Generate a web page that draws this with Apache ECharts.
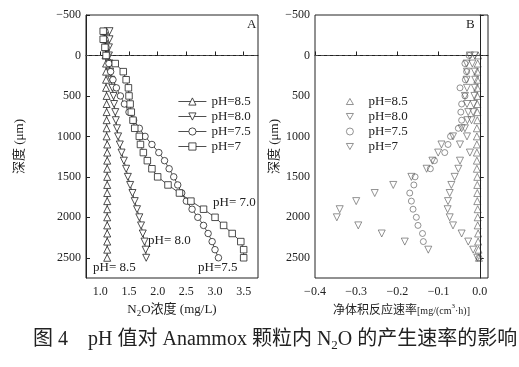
<!DOCTYPE html>
<html>
<head>
<meta charset="utf-8">
<script src="https://cdn.jsdelivr.net/npm/echarts@6.0.0/dist/echarts.min.js"></script>
<style>
html,body{margin:0;padding:0;background:#fff;}
#chart{width:519px;height:367px;}
</style>
</head>
<body>
<div id="chart"></div>
<script>
// ---------- data ----------
const depthsA = [-300,-200,-100,0,100,200,300,400,500,600,700,800,900,1000,1100,1200,1300,1400,1500,1600,1700,1800,1900,2000,2100,2200,2300,2400,2500];
const concPH85 = [1.08,1.08,1.09,1.09,1.10,1.10,1.10,1.10,1.11,1.11,1.11,1.11,1.11,1.11,1.12,1.12,1.12,1.12,1.12,1.12,1.12,1.12,1.12,1.12,1.12,1.12,1.12,1.12,1.12];
const concPH80 = [1.16,1.16,1.15,1.15,1.16,1.17,1.19,1.21,1.23,1.24,1.26,1.27,1.29,1.31,1.34,1.37,1.41,1.45,1.48,1.52,1.56,1.60,1.64,1.68,1.71,1.74,1.77,1.79,1.80];
const concPH75 = [1.08,1.08,1.10,1.12,1.15,1.18,1.22,1.28,1.35,1.42,1.50,1.58,1.68,1.78,1.90,2.02,2.12,2.20,2.28,2.35,2.42,2.50,2.60,2.70,2.80,2.88,2.95,3.00,3.06];
const concPH7  = [1.05,1.05,1.08,1.10,1.26,1.40,1.45,1.49,1.50,1.52,1.54,1.57,1.60,1.68,1.70,1.75,1.82,1.90,2.00,2.18,2.38,2.58,2.80,3.00,3.15,3.30,3.45,3.50,3.50];

const depthsB = [0,100,200,300,400,500,600,700,800,900,1000,1100,1200,1300,1400,1500,1600,1700,1800,1900,2000,2100,2200,2300,2400,2500];
const ratePH85 = [-0.004,-0.005,-0.006,-0.006,-0.006,-0.006,-0.006,-0.006,-0.006,-0.007,-0.007,-0.007,-0.007,-0.007,-0.007,-0.006,-0.006,-0.006,-0.006,-0.005,-0.005,-0.005,-0.004,-0.004,-0.003,-0.002];
const ratePH80 = [-0.012,-0.018,-0.012,-0.011,-0.012,-0.013,-0.015,-0.016,-0.020,-0.036,-0.031,-0.048,-0.024,-0.048,-0.052,-0.061,-0.069,-0.073,-0.077,-0.078,-0.073,-0.065,-0.044,-0.028,-0.016,-0.006];
const ratePH75 = [-0.026,-0.036,-0.032,-0.035,-0.048,-0.036,-0.044,-0.046,-0.044,-0.052,-0.071,-0.077,-0.085,-0.110,-0.120,-0.157,-0.160,-0.170,-0.166,-0.162,-0.154,-0.150,-0.139,-0.137,null,-0.002];
const ratePH7  = [-0.024,-0.032,-0.031,-0.032,-0.031,-0.036,-0.031,-0.028,-0.030,-0.044,-0.065,-0.093,-0.101,-0.115,-0.129,-0.166,-0.210,-0.255,-0.300,-0.340,-0.347,-0.295,-0.238,-0.182,-0.125,null];

const namesA = ['pH=8.5','pH=8.0','pH=7.5','pH=7'];
const namesB = ['pH=8.5 ','pH=8.0 ','pH=7.5 ','pH=7 '];
const yTicks = [-500,0,500,1000,1500,2000,2500];
const xTicksA = [1.0,1.5,2.0,2.5,3.0,3.5];
const xTicksB = [-0.4,-0.3,-0.2,-0.1,0.0];

// ---------- helpers ----------
const SERIF = "'Liberation Serif','Noto Sans CJK SC',serif";
const INK = '#222';
const GREY = '#555';
function pairs(xs, ys){ return ys.map((d,i)=> xs[i]==null ? null : [xs[i], d]); }
function minus(s){ return String(s).replace('-', '\u2212'); }
const UP = 'path://M5,0L10,8.66L0,8.66Z';
const DOWN = 'path://M0,0L10,0L5,8.66Z';

const symA = [
  {symbol:'triangle', rot:0, size:7},
  {symbol:'triangle', rot:180, size:7},
  {symbol:'circle', rot:0, size:6.5},
  {symbol:'rect', rot:0, size:6.5}
];
const dataA = [concPH85, concPH80, concPH75, concPH7];
const dataB = [ratePH85, ratePH80, ratePH75, ratePH7];
const symB = [
  {symbol:'triangle', rot:0, size:7},
  {symbol:'triangle', rot:180, size:7},
  {symbol:'circle', rot:0, size:6},
  {symbol:'triangle', rot:180, size:7}
];
const legendIconB = [UP, DOWN, 'circle', DOWN];

const series = [];
dataA.forEach((arr,i)=>{
  series.push({
    name: namesA[i], type:'line', xAxisIndex:0, yAxisIndex:0,
    data: pairs(arr, depthsA),
    symbol: symA[i].symbol, symbolRotate: symA[i].rot, symbolSize: symA[i].size,
    showAllSymbol:true,
    lineStyle:{color:INK, width:0.8},
    itemStyle:{color:'#fff', borderColor:INK, borderWidth:0.8},
    z: 2+i
  });
});
dataB.forEach((arr,i)=>{
  series.push({
    name: namesB[i], type:'scatter', xAxisIndex:1, yAxisIndex:1,
    data: pairs(arr, depthsB),
    symbol: symB[i].symbol, symbolRotate: symB[i].rot, symbolSize: symB[i].size,
    itemStyle:{color:'rgba(255,255,255,0)', borderColor:GREY, borderWidth:0.8},
    z: 2+i
  });
});
// reference lines
series.push({
  type:'line', xAxisIndex:0, yAxisIndex:0, data:[], silent:true,
  markLine:{symbol:'none', silent:true, label:{show:false},
    lineStyle:{type:[3,3], color:GREY, width:0.8}, data:[{yAxis:0}]}
});
series.push({
  type:'line', xAxisIndex:1, yAxisIndex:1, data:[], silent:true,
  markLine:{symbol:'none', silent:true, label:{show:false},
    data:[
      {yAxis:0, lineStyle:{type:[3,3], color:GREY, width:0.8}},
      {xAxis:0, lineStyle:{type:'solid', color:INK, width:1}}
    ]}
});

function yAxis(idx, gap){
  return {
    type:'value', gridIndex:idx, inverse:true, min:-500, max:2750, interval:500,
    axisLine:{show:true, lineStyle:{color:INK, width:1}},
    axisTick:{inside:true, length:4, lineStyle:{color:INK}, customValues: yTicks},
    axisLabel:{customValues: yTicks, margin:5, color:INK, fontFamily:SERIF, fontSize:12, formatter:v=>minus(v)},
    splitLine:{show:false},
    name:'深度 (μm)', nameLocation:'middle', nameGap:gap,
    nameTextStyle:{color:INK, fontFamily:SERIF, fontSize:13}
  };
}

const option = {
  animation:false,
  backgroundColor:'#fff',
  grid:[
    {left:86, top:15, width:172, height:263, show:true, borderColor:INK, borderWidth:1, backgroundColor:'transparent'},
    {left:315, top:15, width:173, height:263, show:true, borderColor:INK, borderWidth:1, backgroundColor:'transparent'}
  ],
  xAxis:[
    {type:'value', gridIndex:0, min:0.75, max:3.75,
      axisLine:{show:true, lineStyle:{color:INK}},
      axisTick:{inside:true, length:4, customValues:xTicksA, lineStyle:{color:INK}},
      axisLabel:{customValues:xTicksA, margin:8, color:INK, fontFamily:SERIF, fontSize:12, formatter:v=>Number(v).toFixed(1)},
      splitLine:{show:false},
      name:'{t|N}{s|2}{t|O浓度 (mg/L)}', nameLocation:'middle', nameGap:24,
      nameTextStyle:{rich:{
        t:{fontFamily:SERIF, fontSize:13, color:INK, lineHeight:16},
        s:{fontFamily:SERIF, fontSize:9, color:INK, lineHeight:16, verticalAlign:'bottom'}
      }}
    },
    {type:'value', gridIndex:1, min:-0.4, max:0.02,
      axisLine:{show:true, lineStyle:{color:INK}},
      axisTick:{inside:true, length:4, customValues:xTicksB, lineStyle:{color:INK}},
      axisLabel:{customValues:xTicksB, margin:8, color:INK, fontFamily:SERIF, fontSize:12, formatter:v=>minus(Number(v).toFixed(1)).replace('\u22120.0','0.0')},
      splitLine:{show:false},
      name:'{t|净体积反应速率}{u|[mg/(cm}{p|3}{u|·h)]}', nameLocation:'middle', nameGap:22,
      nameTextStyle:{rich:{
        t:{fontFamily:SERIF, fontSize:12, color:INK, lineHeight:16},
        u:{fontFamily:SERIF, fontSize:10, color:INK, lineHeight:16},
        p:{fontFamily:SERIF, fontSize:7, color:INK, lineHeight:16, verticalAlign:'top'}
      }}
    }
  ],
  yAxis:[ yAxis(0, 60), yAxis(1, 32) ],
  legend:[
    {data:namesA, orient:'vertical', left:173, top:90, itemWidth:28, itemHeight:9, itemGap:2,
      selectedMode:false,
      itemStyle:{color:'#fff', borderColor:INK, borderWidth:0.8},
      lineStyle:{color:INK, width:0.8},
      textStyle:{fontFamily:SERIF, fontSize:13, color:INK}},
    {data:namesB.map((n,i)=>({name:n, icon:legendIconB[i]})), orient:'vertical', left:341, top:90,
      itemWidth:7, itemHeight:7, itemGap:2,
      selectedMode:false,
      itemStyle:{color:'rgba(255,255,255,0)', borderColor:GREY, borderWidth:0.8},
      textStyle:{fontFamily:SERIF, fontSize:13, color:INK, padding:[0,0,0,10]}}
  ],
  graphic:[
    {type:'text', left:247, top:18, style:{text:'A', font:"13px 'Liberation Serif'", fill:INK}},
    {type:'text', left:466, top:18, style:{text:'B', font:"13px 'Liberation Serif'", fill:INK}},
    {type:'text', left:213, top:196, style:{text:'pH= 7.0', font:"13px 'Liberation Serif'", fill:INK}},
    {type:'text', left:148, top:234, style:{text:'pH= 8.0', font:"13px 'Liberation Serif'", fill:INK}},
    {type:'text', left:93, top:261, style:{text:'pH= 8.5', font:"13px 'Liberation Serif'", fill:INK}},
    {type:'text', left:198, top:261, style:{text:'pH=7.5', font:"13px 'Liberation Serif'", fill:INK}},
    {type:'text', left:33, top:330, style:{
      text:'{t|图 4　pH 值对 Anammox 颗粒内 N}{s|2}{t|O 的产生速率的影响}',
      rich:{
        t:{fontFamily:SERIF, fontSize:20, fill:INK, lineHeight:24},
        s:{fontFamily:SERIF, fontSize:13, fill:INK, lineHeight:24, verticalAlign:'bottom'}
      }
    }}
  ],
  series: series
};

const chart = echarts.init(document.getElementById('chart'), null, {renderer:'canvas'});
chart.setOption(option);
</script>
</body>
</html>
